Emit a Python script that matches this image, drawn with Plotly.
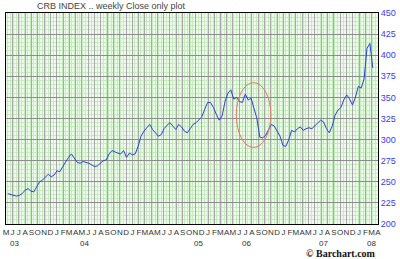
import plotly.graph_objects as go
import pandas as pd

# Weekly CRB index, read every second week from the picture
crb_values = [236, 235, 234, 233, 234, 236, 240, 242, 239, 238,
              244, 250, 252, 256, 259, 256, 258, 263, 262, 268,
              274, 279, 283, 278, 273, 272, 274, 273, 272, 270,
              268, 269, 272, 275, 276, 283, 287, 285, 284, 283,
              287, 279, 284, 282, 283, 292, 304, 310, 314, 318,
              312, 308, 304, 306, 313, 317, 320, 316, 312, 318,
              315, 310, 308, 313, 318, 320, 324, 327, 336, 344,
              344, 338, 330, 323, 328, 345, 355, 359, 348, 350,
              345, 344, 354, 347, 349, 336, 325, 303, 302, 305,
              312, 318, 316, 310, 304, 293, 292, 300, 311, 309,
              313, 315, 311, 313, 314, 313, 316, 320, 323, 321,
              313, 308, 316, 329, 335, 338, 347, 353, 348, 341,
              350, 363, 361, 372, 408, 414, 385]
crb_dates = pd.date_range("2003-05-09", periods=len(crb_values), freq="14D")

month_ticks = pd.date_range("2003-05-01", "2008-04-01", freq="MS")
month_letters = ["M", "J", "J", "A", "S", "O", "N", "D",
                 "J", "F", "M", "A", "M", "J", "J", "A", "S", "O", "N", "D",
                 "J", "F", "M", "A", "M", "J", "J", "A", "S", "O", "N", "D",
                 "J", "F", "M", "A", "M", "J", "J", "A", "S", "O", "N", "D",
                 "J", "F", "M", "A", "M", "J", "J", "A", "S", "O", "N", "D",
                 "J", "F", "M", "A"]
year_labels = ["03", "04", "05", "06", "07", "08"]
year_label_dates = ["2003-06-13", "2004-05-13", "2005-11-16",
                    "2006-07-04", "2007-07-12", "2008-03-03"]
y_ticks = [200, 225, 250, 275, 300, 325, 350, 375, 400, 425, 450]

fig = go.Figure()
fig.add_trace(go.Scatter(x=crb_dates, y=crb_values, mode="lines",
                         line=dict(color="#2a3fe0", width=1),
                         hoverinfo="skip", showlegend=False))

fig.update_layout(
    width=400, height=259,
    margin=dict(l=3, r=22, t=13, b=35),
    paper_bgcolor="white",
    plot_bgcolor="#eefaeb",
    font=dict(family="Liberation Sans", size=8, color="#222"),
    xaxis=dict(
        type="date",
        range=["2003-04-30 18:00", "2008-04-01 06:00"],
        tickmode="array", tickvals=month_ticks, ticktext=month_letters,
        tickangle=0, ticklabeloverflow="allow",
        showgrid=True, gridcolor="#a9a9a9", gridwidth=1,
        ticks="", ticklen=0,
        tickfont=dict(size=8, color="#333"),
        showline=True, linecolor="black", linewidth=1, mirror=True,
        zeroline=False,
        minor=dict(dtick=7 * 86400000 * 2, tick0="2003-05-08",
                   showgrid=True, gridcolor="#c6ebbe", gridwidth=1),
    ),
    yaxis=dict(
        range=[200, 450], side="right",
        tickmode="array", tickvals=y_ticks,
        showgrid=True, gridcolor="#8c8c8c", gridwidth=1,
        ticks="", tickfont=dict(size=9, color="#3a3aff"),
        showline=True, linecolor="black", linewidth=1, mirror=True,
        zeroline=False,
        minor=dict(dtick=5, showgrid=True, gridcolor="#c6ebbe", gridwidth=1),
    ),
)

for lbl, d in zip(year_labels, year_label_dates):
    fig.add_annotation(x=d, y=0, xref="x", yref="paper", yanchor="top",
                       yshift=-13, text=lbl, showarrow=False,
                       font=dict(size=8, color="#333"))

fig.add_annotation(xref="paper", yref="paper", x=(32 - 3) / 375, y=1,
                   yanchor="bottom", xanchor="left",
                   text="CRB INDEX .. weekly Close only plot", showarrow=False,
                   font=dict(size=9, color="#444"))

fig.add_annotation(x=1, y=0, xref="paper", yref="paper", xanchor="right",
                   yanchor="top", yshift=-22, text="© Barchart.com",
                   showarrow=False,
                   font=dict(family="Liberation Serif", size=10, color="#111",
                             weight="bold"))

fig.add_shape(type="circle", xref="paper", yref="paper",
              x0=0.619, x1=0.712, y0=0.363, y1=0.670,
              line=dict(color="#e07868", width=1))

fig.write_html("out.html")
